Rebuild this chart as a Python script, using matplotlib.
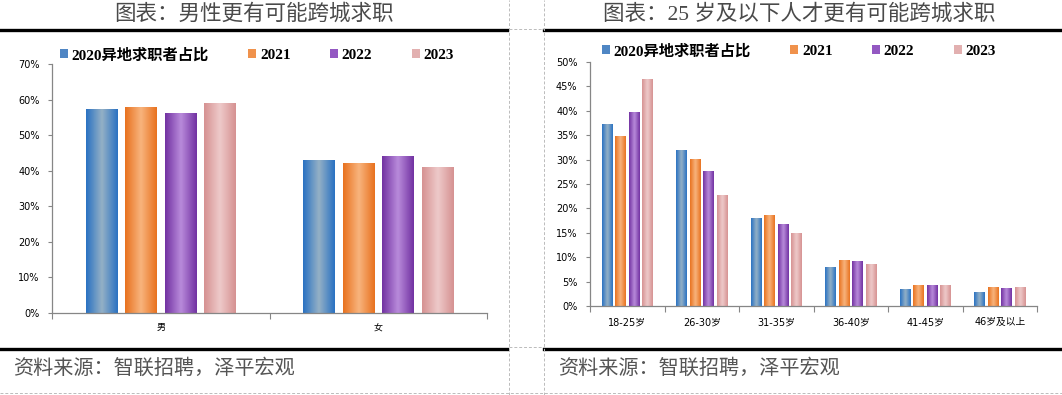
import numpy as np
import matplotlib
matplotlib.use('Agg')
import matplotlib.pyplot as plt
from matplotlib.colors import LinearSegmentedColormap
from matplotlib.lines import Line2D
from matplotlib.patches import Patch
from matplotlib.ticker import FixedLocator

# series names (legend)
series = ['2020异地求职者占比', '2021', '2022', '2023']

# left chart: share of cross-city job seekers by gender
gender = ['男', '女']
gender_2020 = [0.572, 0.428]
gender_2021 = [0.579, 0.421]
gender_2022 = [0.561, 0.439]
gender_2023 = [0.590, 0.410]

# right chart: by age group
age = ['18-25岁', '26-30岁', '31-35岁', '36-40岁', '41-45岁', '46岁及以上']
age_2020 = [0.372, 0.318, 0.179, 0.078, 0.033, 0.027]
age_2021 = [0.347, 0.300, 0.186, 0.094, 0.042, 0.037]
age_2022 = [0.397, 0.275, 0.167, 0.091, 0.042, 0.036]
age_2023 = [0.465, 0.227, 0.149, 0.085, 0.042, 0.037]

# edge / centre colour of each bar gradient
grad = [('#2a72c2', '#95b1c6'), ('#e8721f', '#f8b47e'),
        ('#7232a2', '#b98bdb'), ('#d69292', '#eecaca')]
legend_colors = ['#4f86c4', '#f0924c', '#9358c2', '#e2b0b0']

CJK = 'Noto Sans CJK SC'
axis_gray = '#868686'


def draw_panel(ax, cats, data, ymax, ystep, label_size, label_pad, leg_anchor):
    x = np.arange(len(cats))
    for i, vals in enumerate(data):
        bars = ax.bar(x + (i - 1.5) * 0.182, vals, width=0.145, color='none', zorder=2)
        cmap = LinearSegmentedColormap.from_list('g%d' % i, [grad[i][0], grad[i][1], grad[i][0]])
        for b in bars:
            g = np.linspace(0, 1, 64).reshape(1, -1)
            ax.imshow(g, cmap=cmap, aspect='auto', interpolation='bicubic', zorder=2,
                      extent=[b.get_x(), b.get_x() + b.get_width(), 0, b.get_height()])
    ax.set_xlim(-0.5, len(cats) - 0.5)
    ax.set_ylim(0, ymax)
    yt = np.arange(0, ymax + 1e-9, ystep)
    ax.set_yticks(yt)
    ax.set_yticklabels(['%d%%' % round(v * 100) for v in yt], fontsize=7, family='DejaVu Sans')
    ax.set_xticks(x)
    ax.set_xticklabels(cats, fontsize=label_size, family=['DejaVu Sans', CJK])
    ax.xaxis.set_minor_locator(FixedLocator(np.arange(-0.5, len(cats), 1.0)))
    ax.tick_params(axis='x', which='major', length=0, pad=label_pad)
    ax.tick_params(axis='x', which='minor', length=4, color=axis_gray, width=0.8)
    ax.tick_params(axis='y', length=3, color=axis_gray, width=0.8, pad=6)
    for s in ['top', 'right']:
        ax.spines[s].set_visible(False)
    for s in ['left', 'bottom']:
        ax.spines[s].set_color(axis_gray)
        ax.spines[s].set_linewidth(0.9)
    handles = [Patch(facecolor=c, edgecolor='none') for c in legend_colors]
    ax.legend(handles, series, ncol=4, loc='center left', bbox_to_anchor=leg_anchor,
              frameon=False, handlelength=0.5, handleheight=0.5, handletextpad=0.25,
              columnspacing=2.6, borderaxespad=0, borderpad=0,
              prop={'family': ['Liberation Serif', CJK], 'weight': 'bold', 'size': 11})


fig = plt.figure(figsize=(10.62, 3.95), dpi=100)

ax1 = fig.add_axes([52 / 1062, 82 / 395, 435 / 1062, 249 / 395])
draw_panel(ax1, gender, [gender_2020, gender_2021, gender_2022, gender_2023],
           0.7, 0.1, 6.5, 7.5, (8 / 435, 1 + 9 / 249))

ax2 = fig.add_axes([590 / 1062, 89 / 395, 447 / 1062, 244 / 395])
draw_panel(ax2, age, [age_2020, age_2021, age_2022, age_2023],
           0.5, 0.05, 7, 8, (12 / 447, 1 + 11 / 244))

# titles
title_font = ['Liberation Serif', CJK]
fig.text(254 / 1062, 1 - 14 / 395, '图表：男性更有可能跨城求职', ha='center', va='center',
         fontsize=15.5, color='#4a4a4a', family=title_font)
fig.text(799 / 1062, 1 - 14 / 395, '图表：25 岁及以下人才更有可能跨城求职', ha='center', va='center',
         fontsize=15.5, color='#4a4a4a', family=title_font)

# thick rules above and below each chart
for x0, x1 in [(0, 507), (544, 1062)]:
    for y in [30, 349]:
        fig.add_artist(Line2D([x0 / 1062, x1 / 1062], [1 - y / 395, 1 - y / 395],
                              color='black', linewidth=2.4, transform=fig.transFigure))

# light dashed page guides
dash = dict(color='#bbbbbb', linewidth=0.7, linestyle=(0, (3, 2)), transform=fig.transFigure)
fig.add_artist(Line2D([509 / 1062] * 2, [0, 1], **dash))
fig.add_artist(Line2D([544 / 1062] * 2, [0, 1], **dash))
fig.add_artist(Line2D([509 / 1062, 544 / 1062], [1 - 29 / 395] * 2, **dash))
fig.add_artist(Line2D([509 / 1062, 544 / 1062], [1 - 347 / 395] * 2, **dash))
fig.add_artist(Line2D([0, 1], [1 - 393 / 395] * 2, **dash))

# source notes
for x in [13, 558]:
    fig.text(x / 1062, 1 - 368 / 395, '资料来源：智联招聘，泽平宏观', ha='left', va='center',
             fontsize=14.5, color='#555555', family=CJK, style='italic')

fig.savefig('out.png', dpi=100)
